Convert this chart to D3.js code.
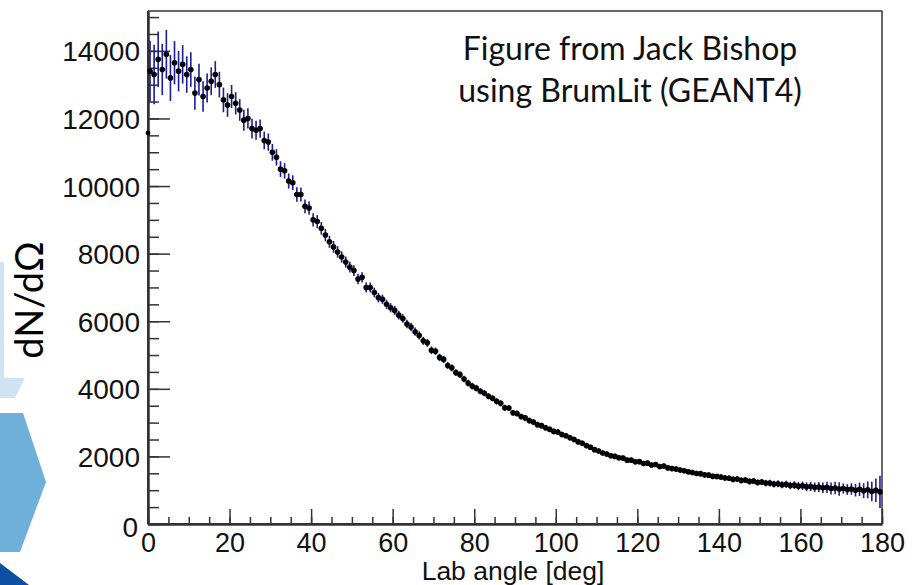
<!DOCTYPE html>
<html>
<head>
<meta charset="utf-8">
<script src="https://cdn.jsdelivr.net/npm/d3@7"></script>
<style>
  html, body { margin: 0; padding: 0; background: #ffffff; }
  svg { display: block; }
</style>
</head>
<body>
<svg id="chart" width="912" height="585"></svg>
<script>
// ---------------- DATA ----------------
// Histogram: 1-degree bins from 0 to 180 deg (bin start angles)
const binStarts = d3.range(0, 180, 1);
const binWidth = 1;

// dN/dOmega per bin
const counts = [
  13400,13300,13750,13450,13900,13200,13650,13400,13600,13300,
  13450,12750,13150,12650,12900,13100,13300,13000,12550,12400,
  12650,12450,12250,11950,12000,11700,11650,11700,11350,11300,
  11000,10850,10500,10450,10150,10100,9750,9750,9400,9350,
  9000,8950,8750,8550,8350,8200,8050,7900,7750,7600,
  7500,7250,7300,7000,7000,6850,6700,6650,6500,6400,
  6320,6180,6080,5920,5830,5690,5580,5420,5360,5140,
  5110,4930,4870,4690,4620,4480,4420,4290,4170,4080,
  4020,3930,3870,3780,3720,3630,3570,3440,3430,3290,
  3270,3180,3140,3060,3020,2940,2910,2850,2800,2740,
  2720,2650,2610,2550,2500,2430,2390,2320,2270,2200,
  2160,2100,2070,2020,2000,1960,1950,1890,1890,1840,
  1845,1790,1800,1745,1760,1700,1715,1660,1640,1625,
  1595,1575,1545,1525,1495,1490,1455,1445,1410,1405,
  1390,1360,1355,1320,1330,1290,1300,1260,1270,1230,
  1240,1210,1210,1180,1190,1160,1175,1140,1150,1120,
  1130,1100,1110,1085,1095,1070,1085,1050,1065,1035,
  1050,1020,1035,1000,1025,985,1010,960,1000,950
];

// statistical error (half-height of each error bar)
const errors = [
  900,880,820,760,720,680,640,600,570,540,
  510,490,470,450,430,410,395,380,365,350,
  340,330,320,310,300,290,280,270,262,255,
  248,241,235,229,223,218,213,208,203,198,
  194,190,186,182,178,174,170,167,164,161,
  158,155,152,149,146,143,140,138,136,134,
  132,130,128,126,124,122,120,118,116,114,
  112,110,108,106,104,102,100,99,98,97,
  96,95,94,93,92,91,90,89,88,87,
  86,86,85,85,84,84,83,83,82,82,
  82,81,81,80,80,80,79,79,79,78,
  78,78,78,77,77,77,77,77,77,77,
  77,77,77,77,77,77,77,77,78,78,
  78,78,79,79,79,80,80,81,81,82,
  82,83,84,85,86,87,88,89,90,92,
  94,96,98,100,102,105,108,111,115,119,
  124,129,135,141,148,156,165,175,186,199,
  150,160,170,185,200,220,250,290,350,480
];

// isolated point drawn on the left edge
const edgeAngles = [0];
const edgeCounts = [11570];

const xMajorTicks = [0, 20, 40, 60, 80, 100, 120, 140, 160, 180];
const xMinorTicks = d3.range(0, 181, 5);
const yMajorTicks = [0, 2000, 4000, 6000, 8000, 10000, 12000, 14000];
const yMinorTicks = d3.range(0, 15001, 500);

const xTitle = "Lab angle [deg]";
const yTitle = "dN/dΩ";
const noteLines = ["Figure from Jack Bishop", "using BrumLit (GEANT4)"];

// ---------------- LAYOUT ----------------
const svg = d3.select("#chart");
const pLeft = 148, pRight = 882, pTop = 11, pBottom = 524;
const x = d3.scaleLinear().domain([0, 180]).range([pLeft, pRight]);
const y = d3.scaleLinear().domain([0, 15180]).range([pBottom, pTop]);

// background slide decorations (left)
const deco = svg.append("g");
deco.append("polygon")
  .attr("points", "0,262 14,262 48,330 15,398 0,398")
  .attr("fill", "#cfe3f3");
deco.append("polygon")
  .attr("points", "0,413 23,413 46,482 20,552 0,552")
  .attr("fill", "#6fb0db");
deco.append("polygon")
  .attr("points", "0,563 0,585 29,585")
  .attr("fill", "#0d4fa3");
deco.append("rect")
  .attr("x", 4).attr("y", 200).attr("width", 72).attr("height", 178)
  .attr("fill", "#ffffff");

// y title
svg.append("text")
  .attr("transform", "translate(43,300) rotate(-90)")
  .attr("text-anchor", "middle")
  .attr("font-family", "Lato, 'Open Sans', sans-serif")
  .attr("font-size", 38)
  .attr("fill", "#000")
  .text(yTitle);

// frame (top and right)
svg.append("line").attr("x1", pLeft).attr("x2", pRight).attr("y1", pTop).attr("y2", pTop)
  .attr("stroke", "#333").attr("stroke-width", 1.5);
svg.append("line").attr("x1", pRight).attr("x2", pRight).attr("y1", pTop).attr("y2", pBottom)
  .attr("stroke", "#333").attr("stroke-width", 1.5);

// axes
const tickFont = "'Liberation Sans', Arial, Helvetica, sans-serif";

const xMinor = d3.axisBottom(x).tickValues(xMinorTicks).tickSizeInner(-7).tickSizeOuter(0).tickFormat("");
const xMajor = d3.axisBottom(x).tickValues(xMajorTicks).tickSizeInner(-15).tickSizeOuter(0).tickPadding(25).tickFormat(d3.format("d"));
const yMinor = d3.axisLeft(y).tickValues(yMinorTicks).tickSizeInner(-11).tickSizeOuter(0).tickFormat("");
const yMajor = d3.axisLeft(y).tickValues(yMajorTicks).tickSizeInner(-22).tickSizeOuter(0).tickPadding(30).tickFormat(d3.format("d"));

function styleAxis(g) {
  g.select(".domain").attr("stroke", "#333").attr("stroke-width", 2);
  g.selectAll(".tick line").attr("stroke", "#333").attr("stroke-width", 1.5);
  g.selectAll(".tick text").attr("font-family", tickFont).attr("font-size", 27).attr("fill", "#111");
}

svg.append("g").attr("transform", `translate(0,${pBottom})`).call(xMinor).call(styleAxis);
const gx = svg.append("g").attr("transform", `translate(0,${pBottom})`).call(xMajor).call(styleAxis);
gx.selectAll(".tick text").attr("dy", "0").attr("y", 28);
svg.append("g").attr("transform", `translate(${pLeft},0)`).call(yMinor).call(styleAxis);
const gy = svg.append("g").attr("transform", `translate(${pLeft},0)`).call(yMajor).call(styleAxis);
gy.selectAll(".tick text").attr("x", -8).attr("dy", "0.36em").attr("font-size", 28);
gy.selectAll(".tick").filter(d => d === 0).select("text").attr("x", -10).attr("dy", "0.45em");

// axis lines drawn full length
svg.append("line").attr("x1", pLeft).attr("x2", pRight).attr("y1", pBottom).attr("y2", pBottom)
  .attr("stroke", "#333").attr("stroke-width", 2);
svg.append("line").attr("x1", pLeft).attr("x2", pLeft).attr("y1", pTop).attr("y2", pBottom)
  .attr("stroke", "#333").attr("stroke-width", 2);

// x title
svg.append("text")
  .attr("x", 513).attr("y", 580)
  .attr("text-anchor", "middle")
  .attr("font-family", tickFont)
  .attr("font-size", 26.5)
  .attr("fill", "#111")
  .text(xTitle);

// data
const data = binStarts.map((b, i) => ({ a: b + binWidth / 2, v: counts[i], e: errors[i] }));
const plot = svg.append("g");
plot.selectAll("line.err").data(data).enter().append("line")
  .attr("class", "err")
  .attr("x1", d => x(d.a)).attr("x2", d => x(d.a))
  .attr("y1", d => y(d.v + d.e)).attr("y2", d => y(Math.max(0, d.v - d.e)))
  .attr("stroke", "#1c1c95").attr("stroke-width", 1.6);
plot.selectAll("line.xerr").data(data).enter().append("line")
  .attr("class", "xerr")
  .attr("x1", d => x(d.a - binWidth / 2)).attr("x2", d => x(d.a + binWidth / 2))
  .attr("y1", d => y(d.v)).attr("y2", d => y(d.v))
  .attr("stroke", "#000").attr("stroke-width", 1.5);
plot.selectAll("circle.pt").data(data).enter().append("circle")
  .attr("class", "pt")
  .attr("cx", d => x(d.a)).attr("cy", d => y(d.v)).attr("r", 2.8)
  .attr("fill", "#000");
plot.selectAll("circle.edge").data(edgeAngles.map((a, i) => ({ a, v: edgeCounts[i] }))).enter().append("circle")
  .attr("class", "edge")
  .attr("cx", d => x(d.a)).attr("cy", d => y(d.v)).attr("r", 2.4)
  .attr("fill", "#000");

// annotation
const note = svg.append("text")
  .attr("text-anchor", "middle")
  .attr("font-family", "Lato, 'Open Sans', sans-serif")
  .attr("font-size", 32)
  .attr("fill", "#111");
noteLines.forEach((t, i) => {
  note.append("tspan").attr("x", 630).attr("y", 60 + i * 42).text(t);
});
</script>
</body>
</html>
